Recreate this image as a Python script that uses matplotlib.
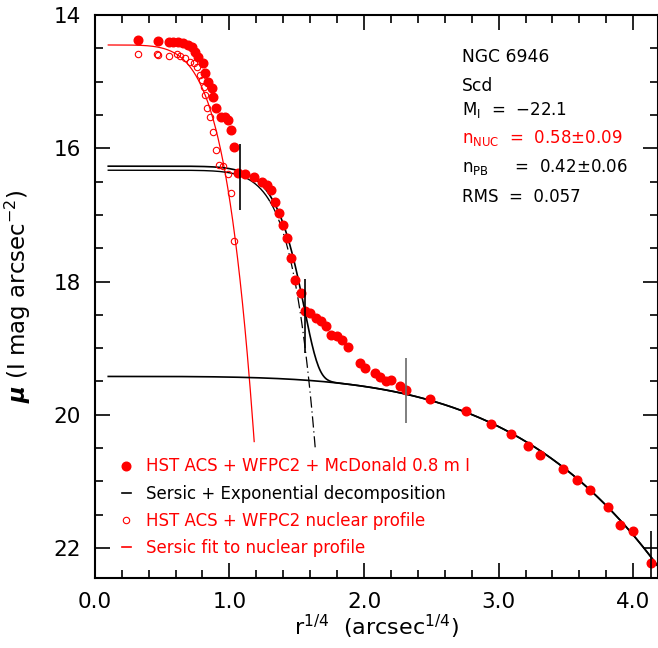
import numpy as np
import matplotlib
matplotlib.use("Agg")
import matplotlib.pyplot as plt
from matplotlib.lines import Line2D

# ---------------------------------------------------------------
# NGC 6946 surface brightness profile
# ---------------------------------------------------------------

# HST ACS + WFPC2 + McDonald 0.8 m I profile (filled)
r14_all = [0.319, 0.468, 0.552, 0.58, 0.62, 0.658, 0.69, 0.72, 0.745, 0.77,
           0.807, 0.82, 0.844, 0.87, 0.88, 0.90, 0.94, 0.97, 0.99, 1.01,
           1.035, 1.067, 1.117, 1.18, 1.24, 1.28, 1.31, 1.34, 1.365, 1.397,
           1.427, 1.46, 1.49, 1.53, 1.56, 1.60, 1.645, 1.68, 1.72, 1.756,
           1.80, 1.84, 1.88, 1.967, 2.01, 2.08, 2.115, 2.165, 2.20, 2.27,
           2.31, 2.49, 2.76, 2.94, 3.09, 3.22, 3.305, 3.48, 3.58, 3.68,
           3.81, 3.90, 4.00, 4.135]
mu_all = [14.375, 14.385, 14.41, 14.40, 14.40, 14.415, 14.45, 14.48, 14.55, 14.625,
          14.72, 14.87, 15.0, 15.1, 15.23, 15.40, 15.53, 15.53, 15.58, 15.725,
          15.98, 16.375, 16.385, 16.425, 16.51, 16.55, 16.63, 16.80, 16.97, 17.15,
          17.35, 17.65, 17.97, 18.17, 18.45, 18.48, 18.55, 18.60, 18.67, 18.80,
          18.825, 18.885, 18.985, 19.225, 19.30, 19.375, 19.435, 19.49, 19.475, 19.565,
          19.625, 19.76, 19.95, 20.135, 20.285, 20.465, 20.60, 20.815, 20.985, 21.135,
          21.385, 21.65, 21.74, 22.225]

# HST ACS + WFPC2 nuclear profile (open)
r14_nuc = [0.319, 0.46, 0.47, 0.55, 0.61, 0.63, 0.67, 0.71, 0.74, 0.76,
           0.78, 0.795, 0.81, 0.82, 0.837, 0.857, 0.876, 0.90, 0.925, 0.95,
           0.99, 1.01, 1.035]
mu_nuc = [14.585, 14.585, 14.60, 14.615, 14.59, 14.615, 14.65, 14.70, 14.725, 14.775,
          14.90, 14.975, 15.075, 15.20, 15.40, 15.535, 15.75, 16.025, 16.25, 16.265,
          16.385, 16.675, 17.39]

# fit range markers
mark_x = [1.08, 1.565, 2.31, 4.135]
mark_lo = [15.93, 17.965, 19.15, 21.75]
mark_hi = [16.92, 19.075, 20.12, 22.45]
mark_col = ["black", "black", "dimgray", "black"]

# model parameters (mu = mu0 + A * x**p, x = r^1/4)
nuc_mu0, nuc_A, nuc_p, nuc_xmax = 14.45, 2.30, 5.63, 1.184
bul_mu0, bul_A, bul_p, bul_xmax = 16.33, 0.0385, 9.5, 1.637
disk_mu0, disk_k = 19.425, 0.0093

x_lo, x_hi = 0.1, 4.18

legend_labels = ["HST ACS + WFPC2 + McDonald 0.8 m I",
                 "Sersic + Exponential decomposition",
                 "HST ACS + WFPC2 nuclear profile",
                 "Sersic fit to nuclear profile"]
legend_colors = ["red", "black", "red", "red"]

plt.rcParams['font.family'] = ['DejaVu Sans']
plt.rcParams['mathtext.fontset'] = 'dejavusans'

fig = plt.figure(figsize=(6.58, 6.48), dpi=100)
ax = fig.add_axes([94.8 / 658, 70 / 648, (657.5 - 94.8) / 658, 563 / 648])

# models
xn = np.linspace(x_lo, nuc_xmax, 300)
ax.plot(xn, nuc_mu0 + nuc_A * xn ** nuc_p, color="red", lw=0.9)

xb = np.linspace(x_lo, bul_xmax, 400)
mu_b = bul_mu0 + bul_A * xb ** bul_p
flat = xb < 1.3
ax.plot(xb[flat], mu_b[flat], color="black", lw=1.0)
ax.plot(xb[~flat], mu_b[~flat], color="black", lw=0.9, ls=(0, (9, 3, 1, 3)))

xd = np.linspace(x_lo, x_hi, 500)
mu_d = disk_mu0 + disk_k * xd ** 4
ax.plot(xd, mu_d, color="black", lw=1.2)

mu_bt = bul_mu0 + bul_A * xd ** bul_p
mu_tot = -2.5 * np.log10(10 ** (-0.4 * mu_bt) + 10 ** (-0.4 * mu_d))
ax.plot(xd, mu_tot, color="black", lw=1.2)

# data
ax.plot(r14_all, mu_all, 'o', color="red", ms=6.2, mec="red")
ax.plot(r14_nuc, mu_nuc, 'o', mfc="none", mec="red", ms=4.6, mew=0.8)

ax.vlines(mark_x, mark_lo, mark_hi, colors=mark_col, lw=1.2)

ax.set_xlim(0, 4.18)
ax.set_ylim(22.45, 14)
ax.set_xticks([0, 1, 2, 3, 4])
ax.set_xticklabels(["0.0", "1.0", "2.0", "3.0", "4.0"])
ax.set_xticks(np.arange(0, 4.2, 0.2), minor=True)
ax.set_yticks([14, 16, 18, 20, 22])
ax.set_yticks(np.arange(14, 22.5, 0.5), minor=True)
ax.tick_params(which="both", direction="in", top=True, right=True, width=1.2,
               labelsize=15.5)
ax.tick_params(which="major", length=10.5, pad=10)
ax.tick_params(which="minor", length=5.5)
for s in ax.spines.values():
    s.set_linewidth(1.5)

ax.set_xlabel(r"r$^{1/4}$  (arcsec$^{1/4}$)", fontsize=16)
ax.set_ylabel(r"$\boldsymbol{\mu}$ (I mag arcsec$^{-2}$)", fontsize=16.5)
ax.xaxis.set_label_coords(0.5, -0.061)
ax.yaxis.set_label_coords(-0.11, 0.5)

# annotations
ax.text(2.73, 14.70, "NGC 6946", fontsize=12.3)
ax.text(2.73, 15.14, "Scd", fontsize=12.3)
ax.text(2.73, 15.50, r"M$_\mathregular{I}$  =  $-$22.1", fontsize=12)
ax.text(2.73, 15.925, r"n$_\mathregular{NUC}$  =  0.58±0.09", fontsize=12, color="red")
ax.text(2.73, 16.35, r"n$_\mathregular{PB}$     =  0.42±0.06", fontsize=12)
ax.text(2.73, 16.80, "RMS  =  0.057", fontsize=12)

handles = [Line2D([], [], ls="none", marker="o", color="red", ms=6.2),
           Line2D([], [], color="black", lw=1.2),
           Line2D([], [], ls="none", marker="o", mfc="none", mec="red", ms=4.6, mew=0.8),
           Line2D([], [], color="red", lw=1.2)]
ax.legend(handles, legend_labels, loc="upper left", bbox_to_anchor=(0.036, 0.226),
          frameon=False, fontsize=12, handlelength=0.55, handletextpad=0.9,
          labelspacing=0.55, labelcolor=legend_colors, borderaxespad=0)

fig.savefig("out.png", dpi=100)
